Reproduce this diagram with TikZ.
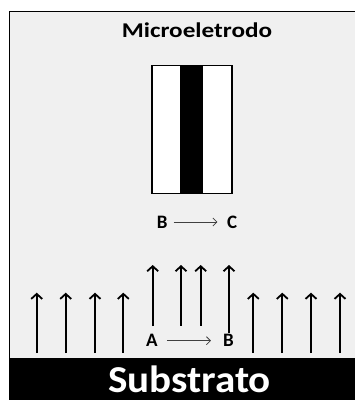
\documentclass[tikz,border=0pt]{standalone}
\usepackage{fontspec}
\setmainfont{Carlito}
\usetikzlibrary{arrows.meta}
\definecolor{bg}{HTML}{F0F0F0}
\begin{document}
\begin{tikzpicture}[x=1pt,y=-1pt,
  lbl/.style={font=\fontsize{19}{19}\selectfont\bfseries, inner sep=0pt, anchor=base},
  uparrow/.style={line width=1.8pt, -{Straight Barb[length=5pt,width=11pt]}},
  thinarrow/.style={line width=0.8pt, draw=black!75, -{Straight Barb[length=4pt,width=8pt]}}]
\useasboundingbox (0,0) rectangle (355,400);
\fill[white] (0,0) rectangle (355,400);
\fill[bg] (9,11.5) rectangle (355,358);
\draw[line width=1.5pt] (9.5,358) -- (9.5,11.5) -- (355,11.5);
\fill[black] (8.5,358) rectangle (355,400);
% title
\node[font=\fontsize{21}{21}\selectfont\bfseries, inner sep=0pt, anchor=base] (title) at (197,37.7) {\scalebox{1.2}[1]{Microeletrodo}};
% electrode
\node[draw, line width=1.2pt, fill=white, minimum width=80pt, minimum height=127.5pt, inner sep=0pt] (electrode) at (192,129.5) {};
\node[fill=black, minimum width=23pt, minimum height=127.5pt, inner sep=0pt] (stripe) at (191.8,129.5) {};
% labels
\node[lbl] (B1) at (162.2,228) {B};
\node[lbl] (C1) at (232.2,228) {C};
\node[lbl] (A2) at (152,346.7) {A};
\node[lbl] (B2) at (228.5,346.7) {B};
\draw[thinarrow] ([xshift=6pt,yshift=6pt]B1.base east) -- ([xshift=-9.5pt,yshift=6pt]C1.base west);
\draw[thinarrow] ([xshift=9pt,yshift=6pt]A2.base east) -- ([xshift=-12pt,yshift=6pt]B2.base west);
% flux arrows
\foreach \x in {36.7,65.7,95,123.3,253.3,282.3,311,340}
  \draw[uparrow] (\x,353) -- (\x,292.7);
\draw[uparrow] (152.7,326) -- (152.7,265);
\draw[uparrow] (181,325.7) -- (181,265);
\draw[uparrow] (200.7,325.7) -- (200.7,265);
\draw[uparrow] (229,332.7) -- (229,265);
% substrate
\node[font=\fontsize{38}{38}\selectfont\bfseries, text=white, inner sep=0pt, anchor=base] (sub) at (189.5,392) {\scalebox{1.08}[1]{Substrato}};
\end{tikzpicture}
\end{document}
